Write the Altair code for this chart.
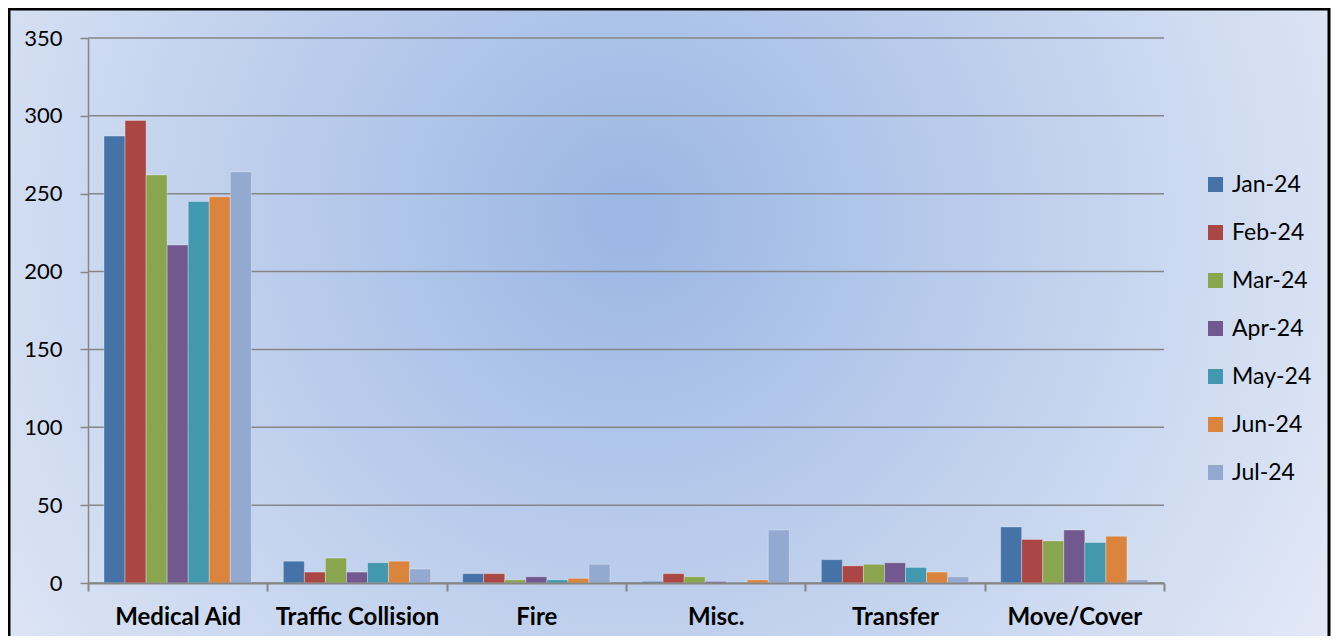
import altair as alt
import pandas as pd

categories = ["Medical Aid", "Traffic Collision", "Fire", "Misc.", "Transfer", "Move/Cover"]
months = ["Jan-24", "Feb-24", "Mar-24", "Apr-24", "May-24", "Jun-24", "Jul-24"]
jan = [287, 14, 6, 1, 15, 36]
feb = [297, 7, 6, 6, 11, 28]
mar = [262, 16, 2, 4, 12, 27]
apr = [217, 7, 4, 1, 13, 34]
may = [245, 13, 2, 0, 10, 26]
jun = [248, 14, 3, 2, 7, 30]
jul = [264, 9, 12, 34, 4, 2]
colors = ["#4572A7", "#AA4643", "#89A54E", "#71588F", "#4198AF", "#DB843D", "#93A9CF"]
y_ticks = [0, 50, 100, 150, 200, 250, 300, 350]

series = [jan, feb, mar, apr, may, jun, jul]
rows = []
for m, vals in zip(months, series):
    for c, v in zip(categories, vals):
        rows.append({"category": c, "month": m, "value": v})
df = pd.DataFrame(rows)
grid_df = pd.DataFrame({"value": y_ticks})

W, H = 1076, 545
PAD = {"left": 80, "top": 30, "right": 168, "bottom": 53}
FONT = "Lato"

grad = alt.RadialGradient(
    gradient="radial",
    x1=0.47, y1=0.42, r1=0.0,
    x2=0.47, y2=0.42, r2=0.62,
    stops=[
        alt.GradientStop(offset=0, color="#9bb6e4"),
        alt.GradientStop(offset=0.55, color="#c3d3ee"),
        alt.GradientStop(offset=1, color="#e3e9f6"),
    ],
)

bg_data = pd.DataFrame({"k": [0]})
background = alt.Chart(bg_data).mark_rect(fill=grad, clip=False).encode(
    x=alt.value(-PAD["left"]), x2=alt.value(W + PAD["right"] - 2),
    y=alt.value(-PAD["top"]), y2=alt.value(H + PAD["bottom"]),
)
frame = alt.Chart(bg_data).mark_rect(filled=False, stroke="black", strokeWidth=3, clip=False).encode(
    x=alt.value(-PAD["left"] + 1), x2=alt.value(W + PAD["right"] - 3),
    y=alt.value(-PAD["top"] + 1), y2=alt.value(H + PAD["bottom"] + 10),
)

y_enc = alt.Y("value:Q", title=None,
              scale=alt.Scale(domain=[0, 350], nice=False),
              axis=alt.Axis(values=y_ticks, labelFontSize=22, labelFont=FONT, labelColor="black",
                            labelPadding=18, tickSize=8, tickColor="#868686", tickWidth=1.5,
                            domainColor="#868686", domainWidth=1.5, grid=False, zindex=1))

gridlines = alt.Chart(grid_df).mark_rule(color="#868686", strokeWidth=1.5).encode(y=y_enc)

bars = alt.Chart(df).mark_bar(stroke="white", strokeOpacity=0.3, strokeWidth=1).encode(
    x=alt.X("category:N", sort=categories, title=None,
            scale=alt.Scale(paddingInner=0, paddingOuter=0),
            axis=alt.Axis(labelAngle=0, labelFontWeight="bold", labelFontSize=24,
                          labelFont=FONT, labelColor="black", labelPadding=14,
                          tickBand="extent", tickSize=8, tickColor="#868686", tickWidth=2,
                          domainColor="#868686", domainWidth=2, grid=False, zindex=1)),
    xOffset=alt.XOffset("month:N", sort=months,
                        scale=alt.Scale(paddingOuter=0.76, paddingInner=0)),
    y=y_enc,
    color=alt.Color("month:N", sort=months, scale=alt.Scale(domain=months, range=colors),
                    legend=alt.Legend(title=None, orient="none", legendX=1116, legendY=135,
                                      symbolType="square", symbolSize=225, symbolStrokeWidth=0,
                                      labelFontSize=23, labelFont=FONT, labelColor="black",
                                      labelLimit=200, rowPadding=24, labelOffset=5)),
)

chart = alt.layer(background, frame, gridlines, bars).properties(
    width=W, height=H,
    autosize=alt.AutoSizeParams(type="none"),
    padding=PAD,
).configure_view(stroke=None).configure(background="white")

chart.save("out.html", embed_options={"renderer": "svg", "actions": False})
